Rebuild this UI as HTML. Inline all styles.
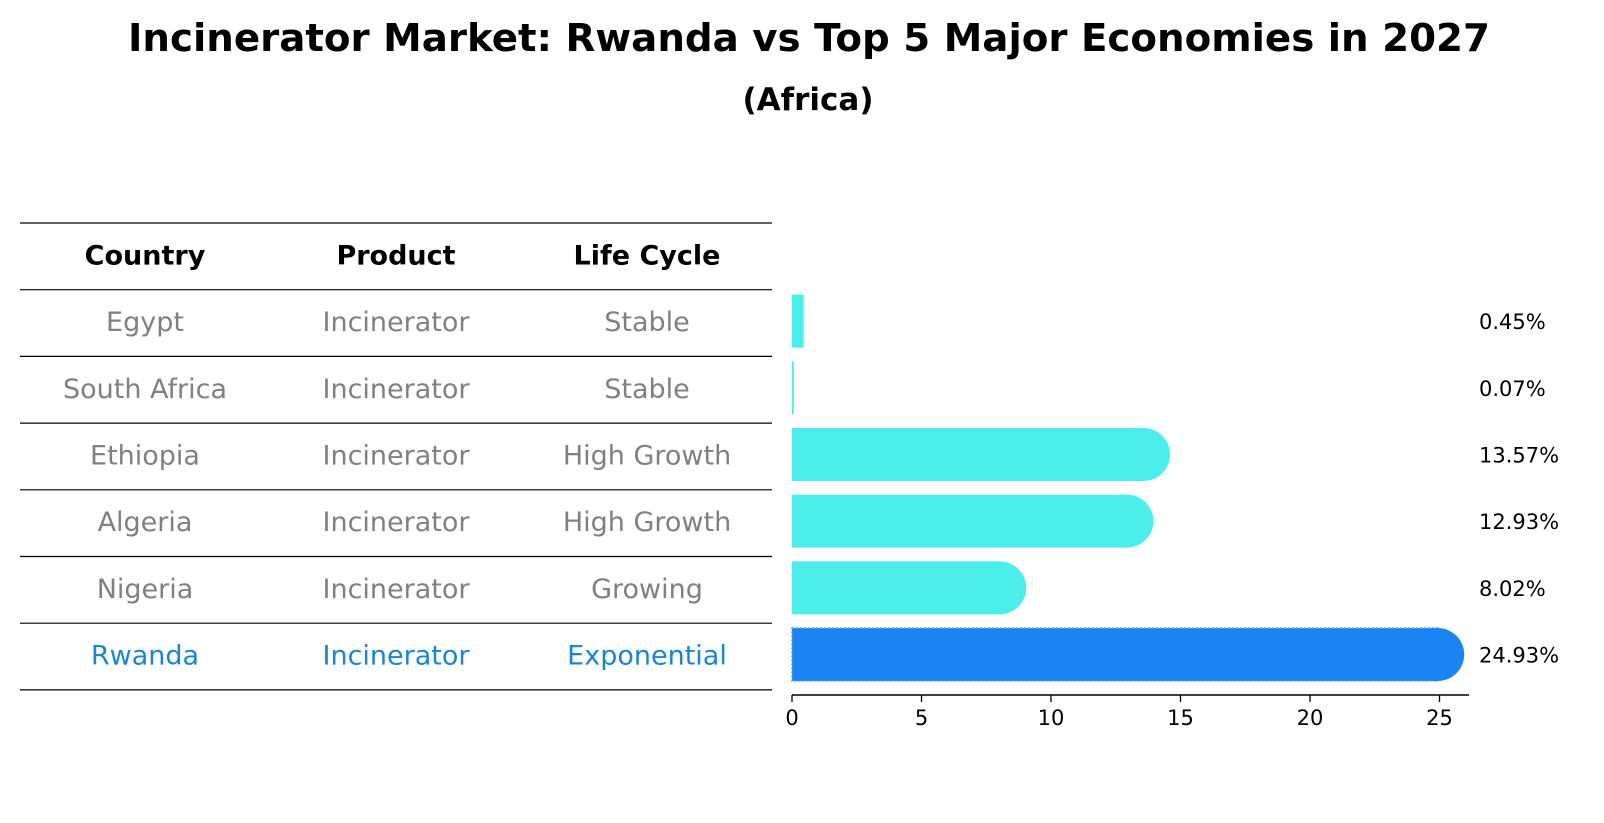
<!DOCTYPE html>
<html><head><meta charset="utf-8"><style>
html,body{margin:0;padding:0;background:#fff;}
svg{display:block;font-family:"DejaVu Sans","Liberation Sans",sans-serif;}
</style></head><body>
<svg id="chart" width="1604" height="823" viewBox="0 0 1604 823" xmlns="http://www.w3.org/2000/svg">
<text x="809" y="51" text-anchor="middle" font-size="38" font-weight="bold" textLength="1362" lengthAdjust="spacingAndGlyphs">Incinerator Market: Rwanda vs Top 5 Major Economies in 2027</text>
<text x="808" y="110" text-anchor="middle" font-size="31" font-weight="bold">(Africa)</text>
<g id="table"></g>
<g id="bars"></g>
</svg>
<script>
const countries = ["Egypt","South Africa","Ethiopia","Algeria","Nigeria","Rwanda"];
const products = ["Incinerator","Incinerator","Incinerator","Incinerator","Incinerator","Incinerator"];
const lifeCycles = ["Stable","Stable","High Growth","High Growth","Growing","Exponential"];
const values = [0.45,0.07,13.57,12.93,8.02,24.93];
const valueLabels = ["0.45%","0.07%","13.57%","12.93%","8.02%","24.93%"];
const xTicks = [0,5,10,15,20,25];
const highlight = "Rwanda";

const NS="http://www.w3.org/2000/svg";
function mk(tag,attrs,parent){const e=document.createElementNS(NS,tag);for(const k in attrs)e.setAttribute(k,attrs[k]);parent.appendChild(e);return e;}
const x0=792, pxPerUnit=25.9;
function xScale(v){return x0+v*pxPerUnit;}
const rowTop=223, rowH=66.7;
function rowY(i){return rowTop+rowH*(i+1)+rowH/2;}

const table=document.getElementById('table');
const colX=[145,396,647];
const headers=["Country","Product","Life Cycle"];
for(let i=0;i<=countries.length+1;i++){
  const ln=mk('line',{x1:20,x2:772,y1:rowTop+rowH*i,y2:rowTop+rowH*i,stroke:'#000','stroke-width':1.2},table);
  
  
}
headers.forEach((h,j)=>{
  const t=mk('text',{x:colX[j],y:rowTop+rowH/2+8,'text-anchor':'middle','font-size':27,'font-weight':'bold',fill:'#000'},table);
  t.textContent=h;
  
  
});
countries.forEach((c,i)=>{
  const col = c===highlight ? '#1a85d8' : '#808080';
  [c,products[i],lifeCycles[i]].forEach((txt,j)=>{
    const t=mk('text',{x:colX[j],y:rowY(i)+8,'text-anchor':'middle','font-size':27,fill:col},table);
    t.textContent=txt;
    
    
  });
});

const bars=document.getElementById('bars');
const barH=53, r=barH/2;
values.forEach((v,i)=>{
  const cy=rowY(i)-2;
  const isHi=countries[i]===highlight;
  const fill=isHi?'#1984f2':'#4ceeeb';
  const w=Math.max(xScale(v)-x0,1);
  const b=mk('rect',{x:x0,y:cy-r,width:w,height:barH,fill:fill},bars);
  
  
  if(isHi){b.setAttribute('stroke','#5aa0e8');b.setAttribute('stroke-dasharray','2 2');b.setAttribute('stroke-width','1.5');}
  if(v>2){
    const c=mk('circle',{cx:xScale(v),cy:cy,r:r,fill:fill},bars);
    
    
  }
  const t=mk('text',{x:1479,y:cy+8,'font-size':21,fill:'#000'},bars);
  t.textContent=valueLabels[i];
  
  
});
const axY=695;
const ax=mk('line',{x1:x0,x2:1469,y1:axY,y2:axY,stroke:'#000','stroke-width':1.5},bars);


xTicks.forEach(tv=>{
  const tk=mk('line',{x1:xScale(tv),x2:xScale(tv),y1:axY,y2:axY+7,stroke:'#000','stroke-width':1.3},bars);
  
  
  const tl=mk('text',{x:xScale(tv),y:axY+30,'text-anchor':'middle','font-size':21,fill:'#000'},bars);
  tl.textContent=tv;
  
  
});
</script>
</body></html>
